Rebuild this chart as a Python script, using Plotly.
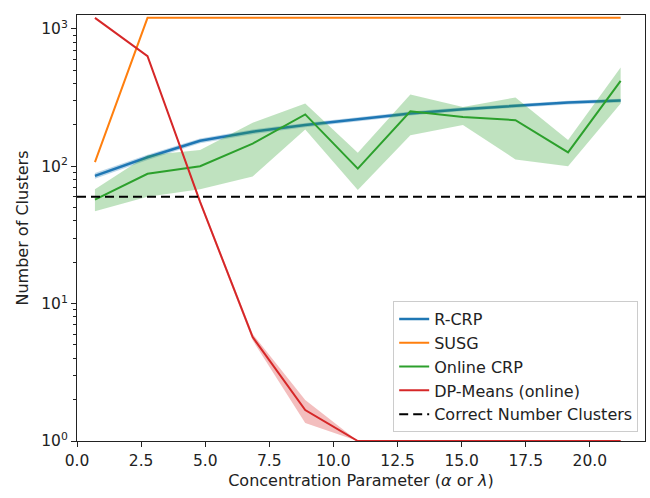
import plotly.graph_objects as go

# ---- data ----
x_vals = [0.7, 2.75, 4.8, 6.85, 8.9, 10.95, 13.0, 15.05, 17.1, 19.15, 21.2]

rcrp_mean = [85, 116, 153, 178, 199, 219, 242, 260, 275, 290, 300]
rcrp_low = [81, 111, 147, 171, 192, 211, 234, 252, 266, 281, 291]
rcrp_high = [89, 121, 159, 185, 206, 227, 250, 268, 284, 299, 309]

susg_mean = [107, 1200, 1200, 1200, 1200, 1200, 1200, 1200, 1200, 1200, 1200]

ocrp_mean = [57, 88, 100, 146, 238, 96, 251, 228, 216, 126, 417]
ocrp_low = [47, 60, 68, 84, 185, 67, 168, 199, 112, 100, 286]
ocrp_high = [68, 120, 131, 207, 286, 125, 332, 270, 316, 155, 522]

dpm_mean = [1200, 631, 55, 5.7, 1.68, 1.0, 1.0, 1.0, 1.0, 1.0, 1.0]
dpm_low = [1195, 625, 53, 5.4, 1.35, 1.0, 1.0, 1.0, 1.0, 1.0, 1.0]
dpm_high = [1205, 637, 57, 6.0, 1.99, 1.0, 1.0, 1.0, 1.0, 1.0, 1.0]

correct_clusters = 60

series_names = ["R-CRP", "SUSG", "Online CRP", "DP-Means (online)", "Correct Number Clusters"]
x_ticks = [0, 2.5, 5, 7.5, 10, 12.5, 15, 17.5, 20]
y_ticks = [1, 10, 100, 1000]
y_ticktext = ["10<sup>0</sup>", "10<sup>1</sup>", "10<sup>2</sup>", "10<sup>3</sup>"]
y_minor = [m * 10 ** d for d in range(0, 3) for m in range(2, 10)]

colors = {"blue": "#1f77b4", "orange": "#ff7f0e", "green": "#2ca02c", "red": "#d62728"}
FONT = "DejaVu Sans"
TXT = "#222222"

fig = go.Figure()


def band(low, high, rgba):
    fig.add_trace(go.Scatter(x=x_vals, y=low, mode="lines", line=dict(width=0),
                             showlegend=False, hoverinfo="skip"))
    fig.add_trace(go.Scatter(x=x_vals, y=high, mode="lines", line=dict(width=0),
                             fill="tonexty", fillcolor=rgba, showlegend=False, hoverinfo="skip"))


band(rcrp_low, rcrp_high, "rgba(31,119,180,0.3)")
fig.add_trace(go.Scatter(x=x_vals, y=rcrp_mean, mode="lines", name=series_names[0],
                         line=dict(color=colors["blue"], width=2.5)))
fig.add_trace(go.Scatter(x=x_vals, y=susg_mean, mode="lines", name=series_names[1],
                         line=dict(color=colors["orange"], width=2)))
band(ocrp_low, ocrp_high, "rgba(44,160,44,0.3)")
fig.add_trace(go.Scatter(x=x_vals, y=ocrp_mean, mode="lines", name=series_names[2],
                         line=dict(color=colors["green"], width=2)))
band(dpm_low, dpm_high, "rgba(214,39,40,0.3)")
fig.add_trace(go.Scatter(x=x_vals, y=dpm_mean, mode="lines", name=series_names[3],
                         line=dict(color=colors["red"], width=2)))
fig.add_trace(go.Scatter(x=[0, 22.15], y=[correct_clusters, correct_clusters], mode="lines",
                         name=series_names[4],
                         line=dict(color="black", width=2, dash="9px,5px")))

axis_common = dict(showline=True, linecolor=TXT, linewidth=1, mirror=True,
                   ticks="outside", ticklen=5, tickwidth=1, tickcolor=TXT,
                   showgrid=False, zeroline=False,
                   tickfont=dict(family=FONT, size=15.5, color=TXT),
                   title_font=dict(family=FONT, size=16, color=TXT))

fig.update_xaxes(range=[0, 22.15], tickvals=x_ticks, tickformat=".1f",
                 title_text="Concentration Parameter (<i>α</i> or <i>λ</i>)", title_standoff=6,
                 **axis_common)
fig.update_yaxes(type="log", range=[0, 3.10], tickvals=y_ticks, ticktext=y_ticktext,
                 title_text="Number of Clusters", title_standoff=8,
                 minor=dict(tickvals=y_minor, ticks="outside", ticklen=3, tickwidth=1,
                            tickcolor=TXT, showgrid=False),
                 **axis_common)

fig.update_layout(
    width=650, height=498,
    margin=dict(l=77, r=5, t=15, b=57),
    paper_bgcolor="white", plot_bgcolor="white",
    font=dict(family=FONT, size=16, color=TXT),
    legend=dict(x=0.988, xanchor="right", y=0.021, yanchor="bottom",
                bgcolor="white", bordercolor="#cccccc", borderwidth=1,
                font=dict(family=FONT, size=16, color=TXT),
                itemwidth=30, tracegroupgap=0, traceorder="normal"),
)

fig.write_html("out.html")
